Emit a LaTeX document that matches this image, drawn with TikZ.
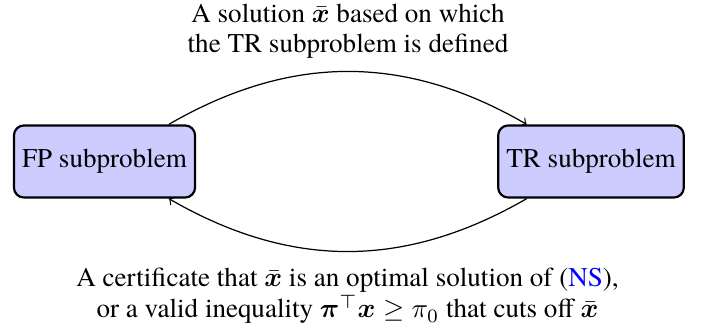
\documentclass[tikz,border=0pt]{standalone}
\usepackage{amsmath,bm}
\usepackage{fontspec}
\setmainfont{texgyretermes-regular.otf}[BoldFont=texgyretermes-bold.otf, ItalicFont=texgyretermes-italic.otf, BoldItalicFont=texgyretermes-bolditalic.otf]
\definecolor{boxfill}{RGB}{204,204,255}
\definecolor{linkblue}{RGB}{0,0,255}
\begin{document}
\begin{tikzpicture}[x=0.369pt,y=-0.369pt,
  subbox/.style={draw=black, line width=0.8pt, fill=boxfill, rounded corners=3.7pt,
    minimum width=66.8pt, minimum height=26.6pt, inner xsep=3pt},
  flow/.style={->, line width=0.45pt},
  lbl/.style={anchor=base, inner sep=0pt}]
\useasboundingbox (0,0) rectangle (702,331);
\node[subbox] (fp) at (104.5,161.5) {FP subproblem};
\node[subbox] (tr) at (591,161.5) {TR subproblem};
\draw[flow] (fp.30) .. controls +(30:52pt) and +(150:52pt) .. (tr.150);
\draw[flow] (tr.-150) .. controls +(-150:52pt) and +(-30:52pt) .. (fp.-30);
\node[lbl] (top1) at (348,23) {A solution $\bar{\bm{x}}$ based on which};
\node[lbl] (top2) at (348,53) {the TR subproblem is defined};
\node[lbl] (bot1) at (347.5,287) {A certificate that $\bar{\bm{x}}$ is an optimal solution of ({\color{linkblue}NS}),};
\node[lbl] (bot2) at (347.5,318) {or a valid inequality $\bm{\pi}^\top \bm{x} \geq \pi_0$ that cuts off $\bar{\bm{x}}$};
\end{tikzpicture}
\end{document}
